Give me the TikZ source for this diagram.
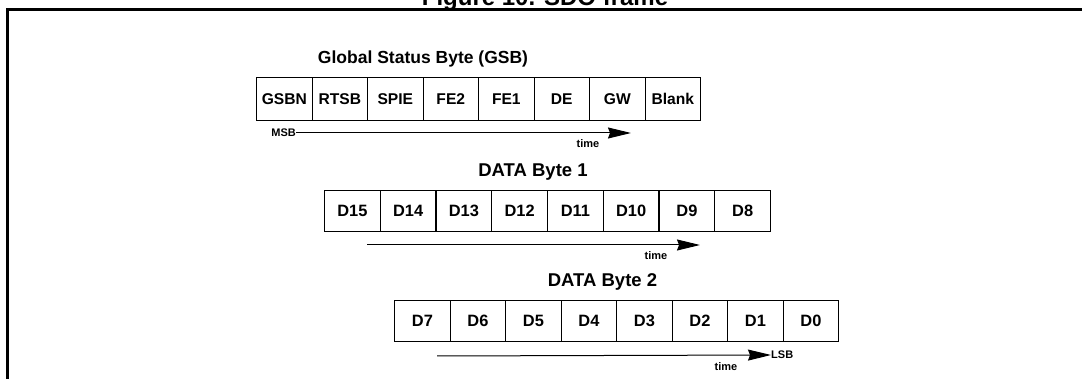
\documentclass[tikz,border=0pt]{standalone}
\usepackage{fontspec}
\setmainfont{Liberation Sans}
\usetikzlibrary{arrows.meta}
\begin{document}
\begin{tikzpicture}[x=1pt,y=-1pt,
  gcell/.style={draw, line width=1.1pt, inner sep=0pt, minimum width=55.5pt, minimum height=43pt, anchor=north west, font=\bfseries\fontsize{15.6}{15.6}\selectfont},
  dcell/.style={draw, line width=1.1pt, inner sep=0pt, minimum width=55.7pt, minimum height=41pt, anchor=north west, font=\bfseries\fontsize{16.4}{16.4}\selectfont},
  ttl/.style={anchor=base, inner sep=0pt, font=\bfseries\fontsize{#1}{#1}\selectfont},
  small/.style={inner sep=0pt, font=\bfseries\fontsize{11}{11}\selectfont},
  tarrow/.style={line width=1pt, -{Stealth[length=23pt,width=11pt,inset=2pt]}}
]
\useasboundingbox (0,0) rectangle (1082,379);
\begin{scope}
\clip (0,0) rectangle (1082,379);
\node[ttl=24] (fig) at (545,6) {Figure 10. SDO frame};
\draw[line width=3pt] (7.5,400) -- (7.5,10) -- (1100,10);
\end{scope}

% Global Status Byte
\node[ttl=17.5] (gsbt) at (423,63.5) {Global Status Byte (GSB)};
\foreach \t [count=\i from 0] in {GSBN,RTSB,SPIE,FE2,FE1,DE,GW,Blank}
  \node[gcell] (g\i) at ({256+55.5*\i},77) {\t};
\node[small, anchor=east] (msb) at (296,133) {MSB};
\coordinate (a1e) at (631,133);
\draw[tarrow] (msb.east) -- (a1e);
\node[small] (t1) at (588,143.5) {time};

% DATA Byte 1
\node[ttl=18.5] (d1t) at (533,176.5) {DATA Byte 1};
\foreach \t [count=\i from 0] in {D15,D14,D13,D12,D11,D10,D9,D8}
  \node[dcell] (b\i) at ({324+55.75*\i},190) {\t};
\coordinate (a2s) at (367,245);
\coordinate (a2e) at (700,245);
\draw[tarrow] (a2s) -- (a2e);
\node[small] (t2) at (656,255.5) {time};

% DATA Byte 2
\node[ttl=18.5] (d2t) at (602.5,287) {DATA Byte 2};
\foreach \t [count=\i from 0] in {D7,D6,D5,D4,D3,D2,D1,D0}
  \node[dcell] (c\i) at ({394+55.5*\i},300) {\t};
\coordinate (a3s) at (437,356);
\node[small, anchor=west] (lsb) at (771,355) {LSB};
\draw[tarrow] (a3s) -- (lsb.west);
\node[small] (t3) at (726,366.5) {time};
\end{tikzpicture}
\end{document}
